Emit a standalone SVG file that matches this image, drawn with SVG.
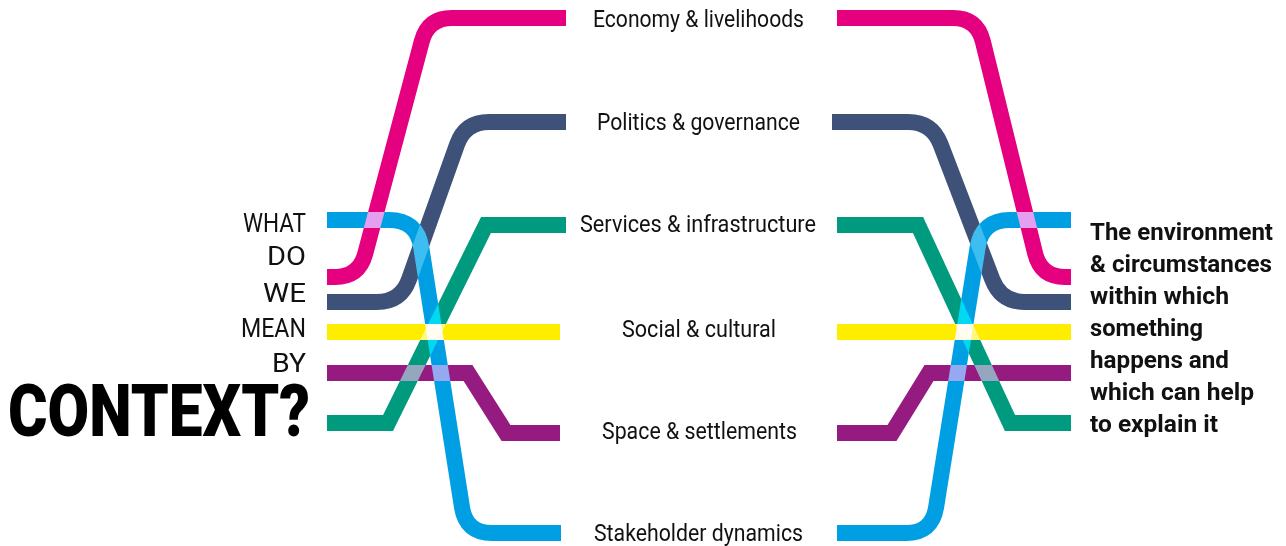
<svg xmlns="http://www.w3.org/2000/svg" width="1286" height="546" viewBox="0 0 1286 546">
<style>
.ln{fill:none;stroke-width:16;stroke-linecap:butt;mix-blend-mode:screen}
.rj{stroke-linejoin:round}
.mj{stroke-linejoin:miter;stroke-miterlimit:10}
.pk{stroke:#E5007F}
.db{stroke:#3D5179}
.bl{stroke:#009FE3}
.gr{stroke:#009B7E}
.ye{stroke:#FFED00}
.pu{stroke:#951B80}
.lbl{font-family:Roboto,"Liberation Sans",sans-serif;font-size:24px;fill:#111}
.q{font-family:Roboto,"Liberation Sans",sans-serif;font-size:26px;fill:#111}
.big{font-family:Roboto,"Liberation Sans",sans-serif;font-size:72px;font-weight:900;fill:#000}
.def{font-family:Roboto,"Liberation Sans",sans-serif;font-size:24px;font-weight:700;fill:#111}
</style>
<rect width="1286" height="546" fill="#fff"/>
<g id="connectors" style="isolation:isolate">
  <path class="ln pk" d="M327,277 H335 Q359,277 365.2,253.8 L421.8,41.2 Q428,18 452,18 H566"/>
  <path class="ln db" d="M327,302 H377 Q401,302 409,279.4 L457,144.6 Q465,122 489,122 H566"/>
  <path class="ln bl" d="M327,220 H389 Q417,220 421.3,247.7 L462,507.3 Q466,533 492,533 H561"/>
  <path class="ln gr mj" d="M327,423 L388,423 L486,225 L566,225"/>
  <path class="ln ye" d="M327,332 H560"/>
  <path class="ln pu mj" d="M327,373 L468,373 L506,433 L560,433"/>
  <path class="ln pk" d="M837,18 H953 Q977,18 982.8,41.3 L1035.2,253.7 Q1041,277 1065,277 H1071"/>
  <path class="ln db" d="M832,122 H908 Q932,122 940.6,144.4 L992.4,279.6 Q1001,302 1025,302 H1071"/>
  <path class="ln bl" d="M837,533 H906 Q932,533 936.1,507.3 L977.6,247.6 Q982,220 1010,220 H1071"/>
  <path class="ln gr mj" d="M837,225 L918,225 L1010,423 L1071,423"/>
  <path class="ln ye" d="M837,332 H1071"/>
  <path class="ln pu mj" d="M837,433 L892,433 L929,373 L1071,373"/>
</g>
<g id="question">
  <text class="q" x="243" y="232" textLength="63" lengthAdjust="spacingAndGlyphs">WHAT</text>
  <text class="q" x="267" y="265" textLength="39" lengthAdjust="spacingAndGlyphs">DO</text>
  <text class="q" x="263" y="302" textLength="43" lengthAdjust="spacingAndGlyphs">WE</text>
  <text class="q" x="241" y="337" textLength="65" lengthAdjust="spacingAndGlyphs">MEAN</text>
  <text class="q" x="272" y="372" textLength="34" lengthAdjust="spacingAndGlyphs">BY</text>
  <text class="big" x="8" y="436" textLength="302" lengthAdjust="spacingAndGlyphs">CONTEXT?</text>
</g>
<g id="economy"><text class="lbl" x="593" y="27" textLength="211" lengthAdjust="spacingAndGlyphs">Economy &amp; livelihoods</text></g>
<g id="politics"><text class="lbl" x="597" y="130" textLength="203" lengthAdjust="spacingAndGlyphs">Politics &amp; governance</text></g>
<g id="services"><text class="lbl" x="580" y="232" textLength="236" lengthAdjust="spacingAndGlyphs">Services &amp; infrastructure</text></g>
<g id="social"><text class="lbl" x="622" y="337" textLength="154" lengthAdjust="spacingAndGlyphs">Social &amp; cultural</text></g>
<g id="space"><text class="lbl" x="602" y="439" textLength="195" lengthAdjust="spacingAndGlyphs">Space &amp; settlements</text></g>
<g id="stakeholder"><text class="lbl" x="594" y="541" textLength="209" lengthAdjust="spacingAndGlyphs">Stakeholder dynamics</text></g>
<g id="definition">
  <text class="def" x="1090" y="240" textLength="183" lengthAdjust="spacingAndGlyphs">The environment</text>
  <text class="def" x="1090" y="272" textLength="182" lengthAdjust="spacingAndGlyphs">&amp; circumstances</text>
  <text class="def" x="1090" y="304" textLength="139" lengthAdjust="spacingAndGlyphs">within which</text>
  <text class="def" x="1090" y="336" textLength="113" lengthAdjust="spacingAndGlyphs">something</text>
  <text class="def" x="1090" y="368" textLength="139" lengthAdjust="spacingAndGlyphs">happens and</text>
  <text class="def" x="1090" y="400" textLength="164" lengthAdjust="spacingAndGlyphs">which can help</text>
  <text class="def" x="1090" y="432" textLength="128" lengthAdjust="spacingAndGlyphs">to explain it</text>
</g>
</svg>
